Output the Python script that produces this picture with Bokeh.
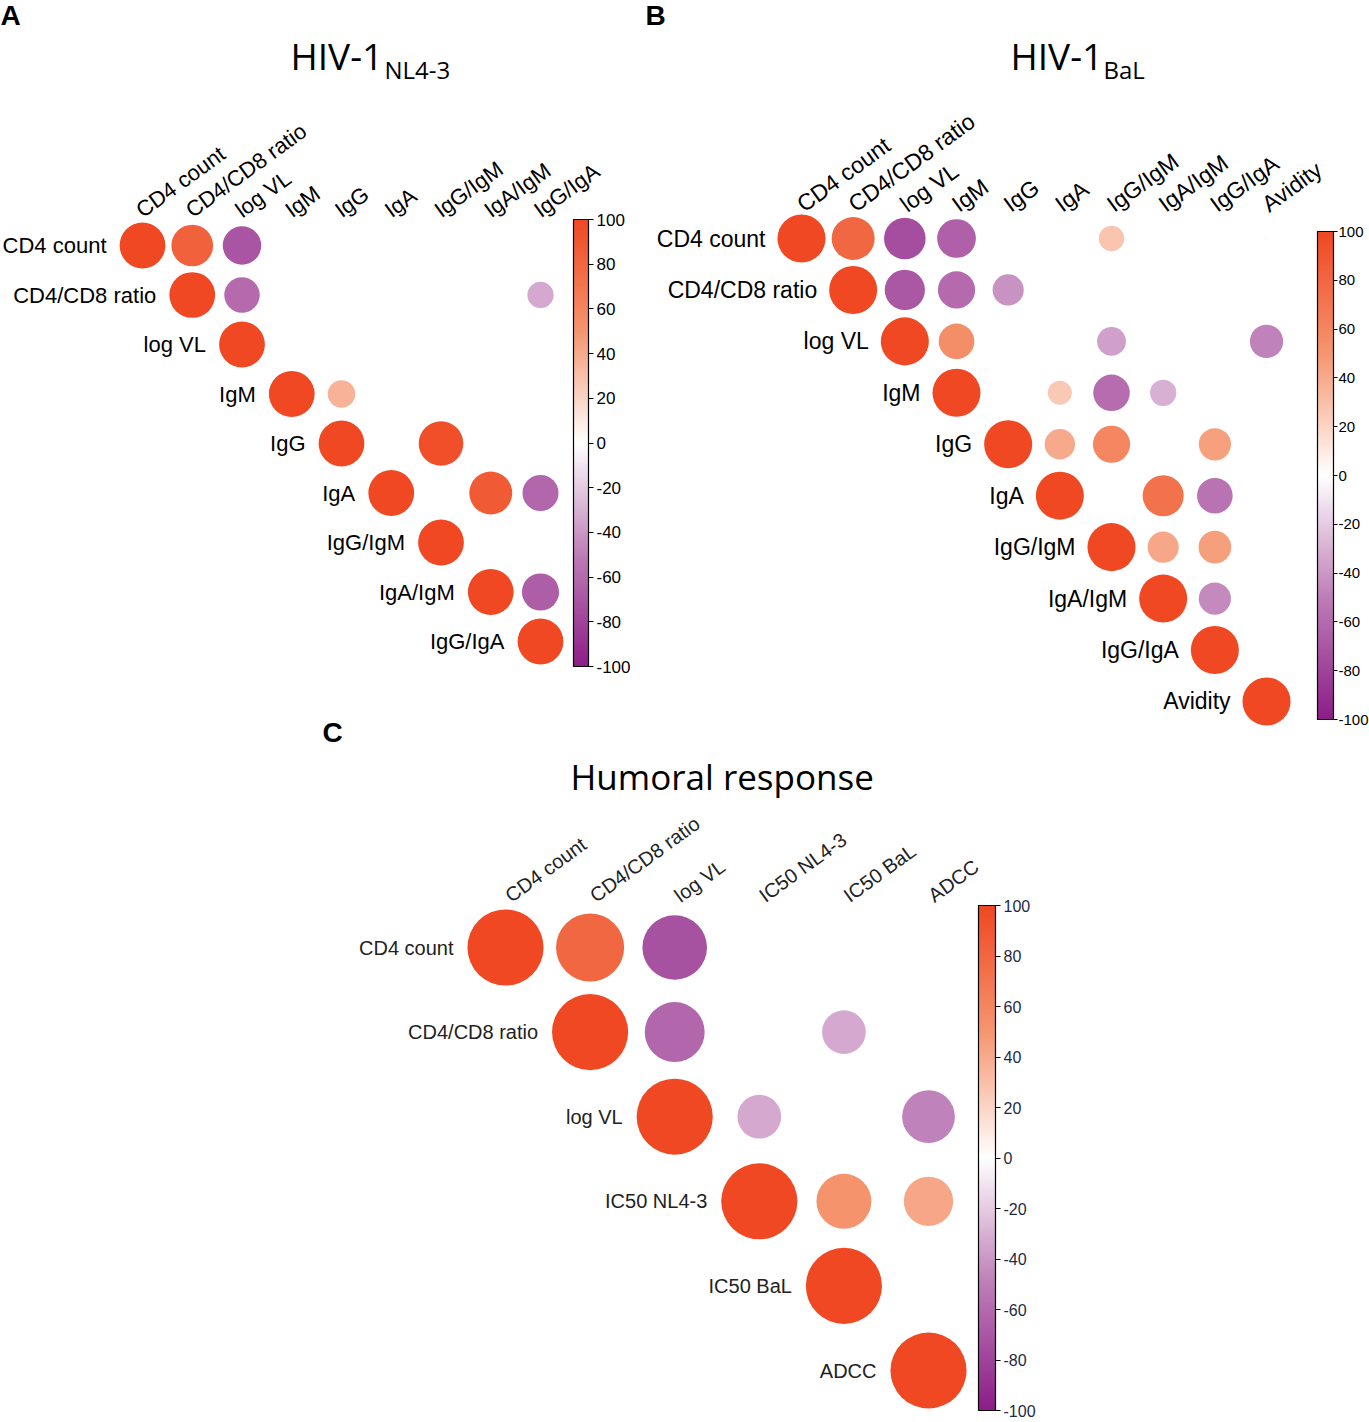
import numpy as np
from bokeh.plotting import figure
from bokeh.models import (Range1d, ColumnDataSource, LinearColorMapper, ColorBar,
                          FixedTicker, Label)
from bokeh.transform import transform
from bokeh.core.properties import value
from bokeh.embed import file_html
from bokeh.resources import INLINE

# ---------------- data ----------------
# Panel A: HIV-1 NL4-3 (Spearman r x 100)
A_labels = ["CD4 count", "CD4/CD8 ratio", "log VL", "IgM", "IgG", "IgA",
            "IgG/IgM", "IgA/IgM", "IgG/IgA"]
A_row = [0, 0, 0, 1, 1, 1, 2, 3, 3, 4, 4, 5, 5, 5, 6, 7, 7, 8]
A_col = [0, 1, 2, 1, 2, 8, 2, 3, 4, 4, 6, 5, 7, 8, 6, 7, 8, 8]
A_val = [100, 83, -71, 100, -60, -33, 100, 100, 36, 100, 95, 100, 88, -62,
         100, 100, -66, 100]

# Panel B: HIV-1 BaL
B_labels = ["CD4 count", "CD4/CD8 ratio", "log VL", "IgM", "IgG", "IgA",
            "IgG/IgM", "IgA/IgM", "IgG/IgA", "Avidity"]
B_row = [0, 0, 0, 0, 0, 0,
         1, 1, 1, 1,
         2, 2, 2, 2,
         3, 3, 3, 3,
         4, 4, 4, 4,
         5, 5, 5,
         6, 6, 6,
         7, 7,
         8,
         9]
B_col = [0, 1, 2, 3, 6, 9,
         1, 2, 3, 4,
         2, 3, 6, 9,
         3, 5, 6, 7,
         4, 5, 6, 8,
         5, 7, 8,
         6, 7, 8,
         7, 8,
         8,
         9]
B_val = [100, 80, -75, -65, 28, 1,
         100, -70, -60, -42,
         100, 55, -36, -48,
         100, 25, -58, -30,
         100, 40, 60, 45,
         100, 73, -55,
         100, 42, 46,
         100, -45,
         100,
         100]

# Panel C: Humoral response
C_labels = ["CD4 count", "CD4/CD8 ratio", "log VL", "IC50 NL4-3", "IC50 BaL", "ADCC"]
C_row = [0, 0, 0, 1, 1, 1, 2, 2, 2, 3, 3, 3, 4, 5]
C_col = [0, 1, 2, 1, 2, 4, 2, 3, 5, 3, 4, 5, 4, 5]
C_val = [100, 80, -72, 100, -62, -33, 100, -33, -48, 100, 52, 42, 100, 100]

CB_ticks = [-100, -80, -60, -40, -20, 0, 20, 40, 60, 80, 100]

# ---------------- colour scale ----------------
anchors_v = [-100, -50, 0, 50, 100]
anchors_c = [(140, 30, 135), (190, 125, 183), (255, 255, 255),
             (245, 150, 112), (239, 72, 35)]
grid = np.linspace(-100, 100, 256)
chan = [np.interp(grid, anchors_v, [c[k] for c in anchors_c]) for k in range(3)]
palette = ["#%02x%02x%02x" % (int(round(r)), int(round(g)), int(round(b)))
           for r, g, b in zip(*chan)]
mapper = LinearColorMapper(palette=palette, low=-100, high=100)

# ---------------- canvas ----------------
W, H = 1369, 1422
OX, OY = 0, 0
p = figure(width=W, height=H, output_backend="svg", toolbar_location=None,
           x_range=Range1d(OX, OX + W), y_range=Range1d(OY + H, OY),
           x_axis_location=None, y_axis_location=None, min_border=0)
p.grid.visible = False
p.outline_line_color = None
p.background_fill_color = "white"
p.border_fill_color = "white"

ANG = np.deg2rad(36)


def panel(name, labels, rows, cols, vals, x0, sx, y0, sy, rfrac,
          font, fsize, tcolor, row_off, col_dx, col_dy):
    p.extra_x_ranges = {**p.extra_x_ranges,
                        name: Range1d((OX - x0) / sx, (OX + W - x0) / sx)}
    p.extra_y_ranges = {**p.extra_y_ranges,
                        name: Range1d((OY + H - y0) / sy, (OY - y0) / sy)}
    src = ColumnDataSource(dict(
        x=cols, y=rows, v=vals,
        r=[rfrac * np.sqrt(abs(v) / 100.0) for v in vals]))
    p.circle(x="x", y="y", radius="r", source=src,
             fill_color=transform("v", mapper), line_color=None,
             x_range_name=name, y_range_name=name)
    idx = list(range(len(labels)))
    lsrc = ColumnDataSource(dict(i=idx, z=[0] * len(idx), t=labels))
    p.text(x="i", y="i", text="t", source=lsrc, x_offset=row_off,
           text_align="right", text_baseline="middle",
           text_font=value(font), text_font_size=value(fsize),
           text_color=tcolor, x_range_name=name, y_range_name=name)
    p.text(x="i", y="z", text="t", source=lsrc, angle=ANG,
           x_offset=col_dx, y_offset=col_dy,
           text_align="left", text_baseline="alphabetic",
           text_font=value(font), text_font_size=value(fsize),
           text_color=tcolor, x_range_name=name, y_range_name=name)


panel("A", A_labels, A_row, A_col, A_val, 142, 49.75, 245, 49.5, 0.46,
      "Liberation Sans", "22px", "black", -36, -4, -33)
panel("B", B_labels, B_row, B_col, B_val, 801, 51.67, 238, 51.44, 0.465,
      "Liberation Sans", "23px", "black", -36, -2, -32)
panel("C", C_labels, C_row, C_col, C_val, 505, 84.6, 947, 84.6, 0.45,
      "Liberation Sans", "20px", "#222222", -52, 2, -50)


def colorbar(left, top, bottom, bw, fsize, lcolor, tick_out, standoff):
    cb = ColorBar(color_mapper=mapper, ticker=FixedTicker(ticks=CB_ticks),
                  major_label_overrides={t: str(t) for t in CB_ticks},
                  width=bw, height=bottom - top,
                  location=(left - OX, OY + H - bottom), padding=0,
                  bar_line_color="black", bar_line_width=1.2,
                  major_tick_in=0, major_tick_out=tick_out,
                  major_tick_line_color="black",
                  label_standoff=standoff,
                  major_label_text_font="Liberation Sans",
                  major_label_text_font_size=fsize,
                  major_label_text_color=lcolor,
                  background_fill_alpha=0, border_line_color=None)
    p.add_layout(cb)


colorbar(573, 219, 666, 15, "17px", "black", 5, 3)
colorbar(1317, 231, 719, 16, "15px", "black", 4, 1)
colorbar(978, 905, 1410, 17, "16px", "#1f2a44", 5, 3)

# ---------------- titles & panel letters ----------------
def lab(x, y, t, font, size, bold=False):
    p.add_layout(Label(x=x, y=y, text=t, text_font=font, text_font_size=size,
                       text_font_style="bold" if bold else "normal",
                       text_align="left", text_baseline="alphabetic",
                       text_color="black"))


lab(0, 15, "A", "Liberation Sans", "28px", True)
lab(645, 15, "B", "Liberation Sans", "28px", True)
lab(322, 732, "C", "Liberation Sans", "28px", True)

lab(290, 55, "HIV-1", "Open Sans", "37px")
lab(384, 69, "NL4-3", "Open Sans", "24px")
lab(1010, 55, "HIV-1", "Open Sans", "37px")
lab(1103, 69, "BaL", "Open Sans", "24px")
lab(570, 776, "Humoral response", "Open Sans", "35px")

open("out.html", "w").write(file_html(p, INLINE))
